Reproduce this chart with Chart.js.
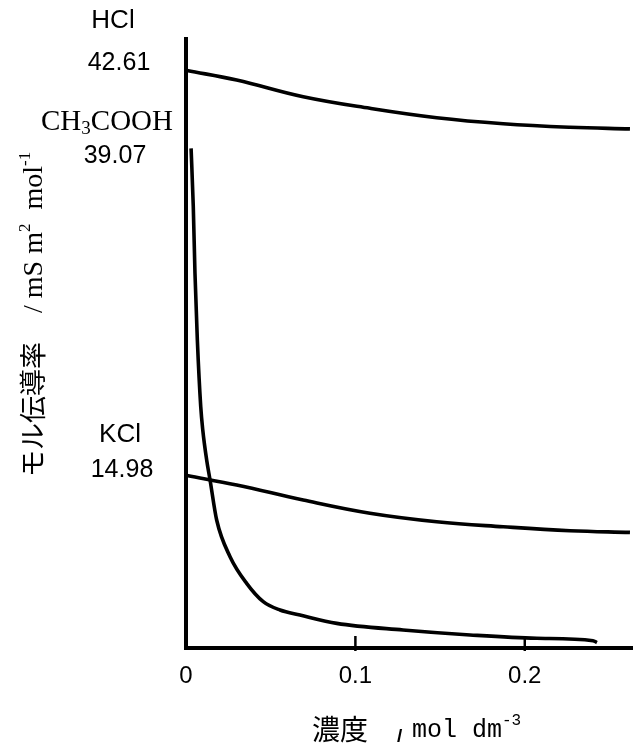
<!DOCTYPE html>
<html>
<head>
<meta charset="utf-8">
<script src="https://cdn.jsdelivr.net/npm/chart.js@4.4.0/dist/chart.umd.min.js"></script>
<style>
html,body{margin:0;padding:0;background:#fff;}
#c{display:block;}
</style>
</head>
<body>
<canvas id="c" width="637" height="748"></canvas>
<script>
// Concentration (mol dm^-3) and molar conductivity values
const hclX = [0.0006, 0.0299, 0.0692, 0.1086, 0.1480, 0.1873, 0.2267, 0.2621];
const hclY = [42.61, 41.96, 40.82, 40.03, 39.39, 38.98, 38.74, 38.63];

const kclX = [0.0006, 0.0299, 0.0692, 0.1086, 0.1480, 0.1873, 0.2267, 0.2621];
const kclY = [14.98, 14.34, 13.31, 12.41, 11.83, 11.49, 11.22, 11.11];

const acX = [0.0030, 0.0043, 0.0053, 0.0067, 0.0087, 0.0099, 0.0122, 0.0142, 0.0181, 0.0260,
             0.0358, 0.0456, 0.0555, 0.0673, 0.0890, 0.1281, 0.1677, 0.2070, 0.2403, 0.2426];
const acY = [37.30, 33.32, 28.78, 24.23, 19.68, 18.09, 16.04, 14.68, 11.95, 9.45,
             7.63, 6.38, 5.81, 5.47, 4.90, 4.45, 4.11, 3.88, 3.72, 3.59];

const xTickValues = [0, 0.1, 0.2];
const xTickLabels = ['0', '0.1', '0.2'];

function pts(xs, ys){ return xs.map((x,i)=>({x:x, y:ys[i]})); }

const baseStyle = { borderColor:'#000', borderWidth:3.6, pointRadius:0, fill:false };

const tickMarks = {
  id:'tickMarks',
  afterDraw(chart){
    const ctx = chart.ctx, xs = chart.scales.x, b = chart.chartArea.bottom;
    ctx.save();
    ctx.strokeStyle = '#000'; ctx.lineWidth = 2.5;
    xTickValues.forEach(v=>{
      if (v === 0) return;
      const px = xs.getPixelForValue(v);
      ctx.beginPath(); ctx.moveTo(px, b - 12); ctx.lineTo(px, b + 3); ctx.stroke();
    });
    ctx.restore();
  }
};

const labels = {
  id:'labels',
  afterDraw(chart){
    const ctx = chart.ctx;
    ctx.save();
    ctx.fillStyle = '#000';
    ctx.textBaseline = 'alphabetic';
    ctx.textAlign = 'center';
    ctx.font = '26px "Liberation Sans", Arial, sans-serif';
    ctx.fillText('HCl', 113, 28);
    ctx.fillText('KCl', 120, 442);
    ctx.font = '25px "Liberation Sans", Arial, sans-serif';
    ctx.fillText('42.61', 119, 70);
    ctx.fillText('39.07', 115, 163);
    ctx.fillText('14.98', 122, 477);

    // CH3COOH with subscript
    ctx.textAlign = 'left';
    const big = '29px "Liberation Serif", "Times New Roman", serif';
    const small = '19px "Liberation Serif", "Times New Roman", serif';
    ctx.font = big; const w1 = ctx.measureText('CH').width;
    ctx.font = small; const w2 = ctx.measureText('3').width;
    ctx.font = big; const w3 = ctx.measureText('COOH').width;
    let x0 = 107 - (w1 + w2 + w3) / 2;
    ctx.font = big; ctx.fillText('CH', x0, 130);
    ctx.font = small; ctx.fillText('3', x0 + w1, 134);
    ctx.font = big; ctx.fillText('COOH', x0 + w1 + w2, 130);

    // X axis title
    ctx.font = '28px "Noto Sans CJK JP", sans-serif';
    ctx.fillText('濃度', 312, 740);
    ctx.font = 'bold 19px "Liberation Sans", sans-serif';
    ctx.fillText('/', 397, 742);
    ctx.font = '25px "Liberation Mono", monospace';
    ctx.fillText('mol dm', 412, 737);
    ctx.font = '16px "Liberation Mono", monospace';
    ctx.fillText('-3', 502, 725);

    // Y axis title (rotated)
    ctx.translate(44, 477);
    ctx.rotate(-Math.PI / 2);
    ctx.font = '27px "Noto Sans CJK JP", sans-serif';
    ctx.fillText('モル伝導率', 0, -1);
    const serif = '28px "Liberation Serif", "Times New Roman", serif';
    const sup = '17px "Liberation Serif", "Times New Roman", serif';
    let t = 164;
    const seg = (s, f, dy) => { ctx.font = f; ctx.fillText(s, t, dy); t += ctx.measureText(s).width; };
    seg('/ mS m', serif, -2);
    seg('2', sup, -14);
    seg('  mol', serif, -2);
    seg('-1', sup, -14);
    ctx.restore();
  }
};

new Chart(document.getElementById('c'), {
  type:'line',
  data:{
    datasets:[
      Object.assign({label:'HCl', data:pts(hclX, hclY), tension:0.4}, baseStyle),
      Object.assign({label:'KCl', data:pts(kclX, kclY), tension:0.4}, baseStyle),
      Object.assign({label:'CH3COOH', data:pts(acX, acY), cubicInterpolationMode:'monotone'}, baseStyle)
    ]
  },
  options:{
    responsive:false,
    animation:false,
    layout:{padding:{left:186, top:39, right:5, bottom:40}},
    plugins:{legend:{display:false}, tooltip:{enabled:false}},
    scales:{
      x:{
        type:'linear', min:0, max:0.2633,
        grid:{display:false, drawTicks:false},
        border:{display:true, width:4, color:'#000'},
        afterBuildTicks(scale){ scale.ticks = xTickValues.map(v=>({value:v})); },
        ticks:{
          color:'#000', padding:14,
          font:{family:'"Liberation Sans", Arial, sans-serif', size:24},
          callback(v){ const i = xTickValues.indexOf(v); return i >= 0 ? xTickLabels[i] : ''; }
        },
        afterFit(scale){ scale.height = 60; }
      },
      y:{
        type:'linear', min:3.22, max:44.76,
        grid:{display:false, drawTicks:false},
        border:{display:true, width:4, color:'#000'},
        ticks:{display:false},
        afterFit(scale){ scale.width = 0; }
      }
    }
  },
  plugins:[tickMarks, labels]
});
</script>
</body>
</html>
